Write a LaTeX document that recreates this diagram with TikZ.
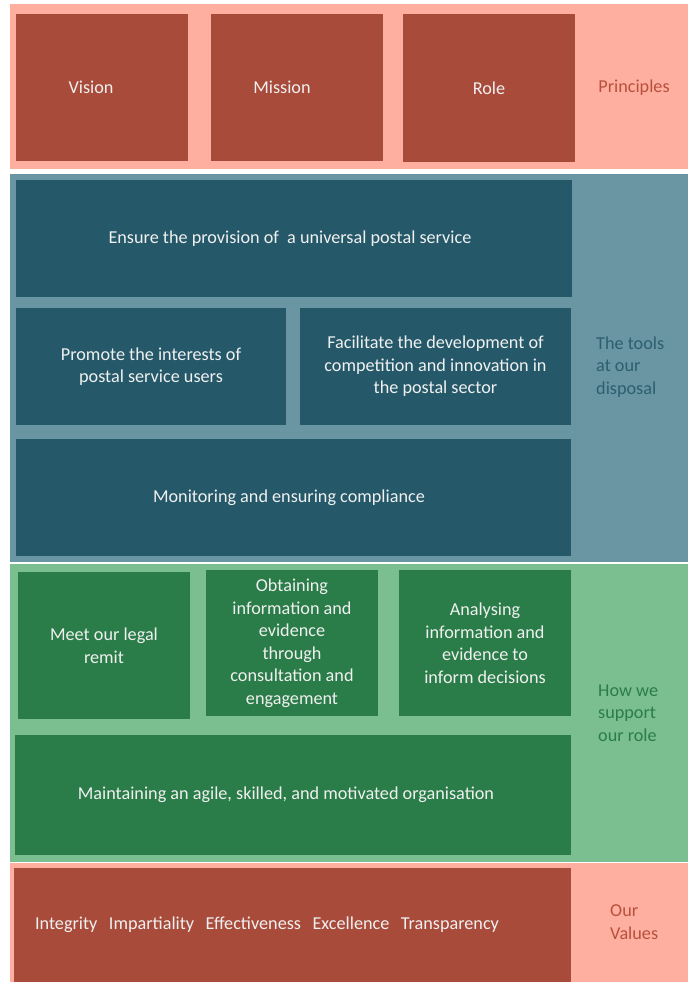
\documentclass[tikz,border=0pt]{standalone}
\usepackage{fontspec}
\setmainfont{Carlito}
\usetikzlibrary{positioning}
\definecolor{bandpink}{HTML}{FFAFA0}
\definecolor{boxred}{HTML}{A94B3A}
\definecolor{bandblue}{HTML}{6A95A3}
\definecolor{boxblue}{HTML}{25596A}
\definecolor{bandgreen}{HTML}{7BBF90}
\definecolor{boxgreen}{HTML}{2A7D48}
\definecolor{labred}{HTML}{B8503E}
\definecolor{labblue}{HTML}{2C5F6F}

\begin{document}
\begin{tikzpicture}[x=1pt,y=-1pt,
band/.style={rectangle,anchor=north west,inner sep=0pt,minimum width=678pt},
block/.style={rectangle,text=white!94!black,align=center,inner sep=0pt,font=\fontsize{18.2}{22.5}\selectfont},
side/.style={align=left,anchor=west,inner sep=0pt,font=\fontsize{18.2}{22.5}\selectfont}]
\useasboundingbox (0,0) rectangle (688,982);

\node [band, fill=bandpink, minimum height=165pt] (prinband) at (10,4) {};
\node [band, fill=bandblue, minimum height=388pt] (toolband) at (10,174) {};
\node [band, fill=bandgreen, minimum height=298pt] (roleband) at (10,564) {};
\node [band, fill=bandpink, minimum height=119pt] (valband) at (10,863) {};

\node [block, fill=boxred, minimum width=172pt, minimum height=147pt] (vision) at (102,87.5) {Vision\kern22pt};
\node [block, fill=boxred, minimum width=172pt, minimum height=147pt] (mission) at (297,87.5) {Mission\kern30pt};
\node [block, fill=boxred, minimum width=172pt, minimum height=148pt] (role) at (489,88) {Role};

\node [block, fill=boxblue, minimum width=556pt, minimum height=117pt] (ensure) at (294,238.5) {Ensure the provision of\ \ a universal postal service\kern8pt};
\node [block, fill=boxblue, minimum width=270pt, minimum height=117pt] (promote) at (151,366.5) {Promote the interests of\\postal service users};
\node [block, fill=boxblue, minimum width=271pt, minimum height=117pt] (facil) at (435.5,366.5) {Facilitate the development of\\competition and innovation in\\the postal sector};
\node [block, fill=boxblue, minimum width=555pt, minimum height=117pt] (monitor) at (293.5,497.5) {Monitoring and ensuring compliance\kern9pt};

\node [block, fill=boxgreen, minimum width=172pt, minimum height=147pt] (remit) at (104,645.5) {Meet our legal\\remit};
\node [block, fill=boxgreen, minimum width=172pt, minimum height=146pt] (obtain) at (292,643) {Obtaining\\information and\\evidence\\through\\consultation and\\engagement};
\node [block, fill=boxgreen, minimum width=172pt, minimum height=146pt] (analyse) at (485,643) {Analysing\\information and\\evidence to\\inform decisions};
\node [block, fill=boxgreen, minimum width=556pt, minimum height=120pt] (maintain) at (293,795) {Maintaining an agile, skilled, and motivated organisation\kern14pt};

\node [block, fill=boxred, minimum width=557pt, minimum height=114pt] (values) at (292.5,925) {Integrity\hspace{11.5pt}Impartiality\hspace{11.5pt}Effectiveness\hspace{11.5pt}Excellence\hspace{11.5pt}Transparency\kern51pt};

\node [side, text=labred, anchor=center] (principles) at (634,88) {Principles};
\node [side, text=labblue] (tools) at (596,367) {The tools\\at our\\disposal};
\node [side, text=boxgreen] (support) at (598,713) {How we\\support\\our role};
\node [side, text=labred] (ourval) at (610,922) {Our\\Values};
\end{tikzpicture}
\end{document}
